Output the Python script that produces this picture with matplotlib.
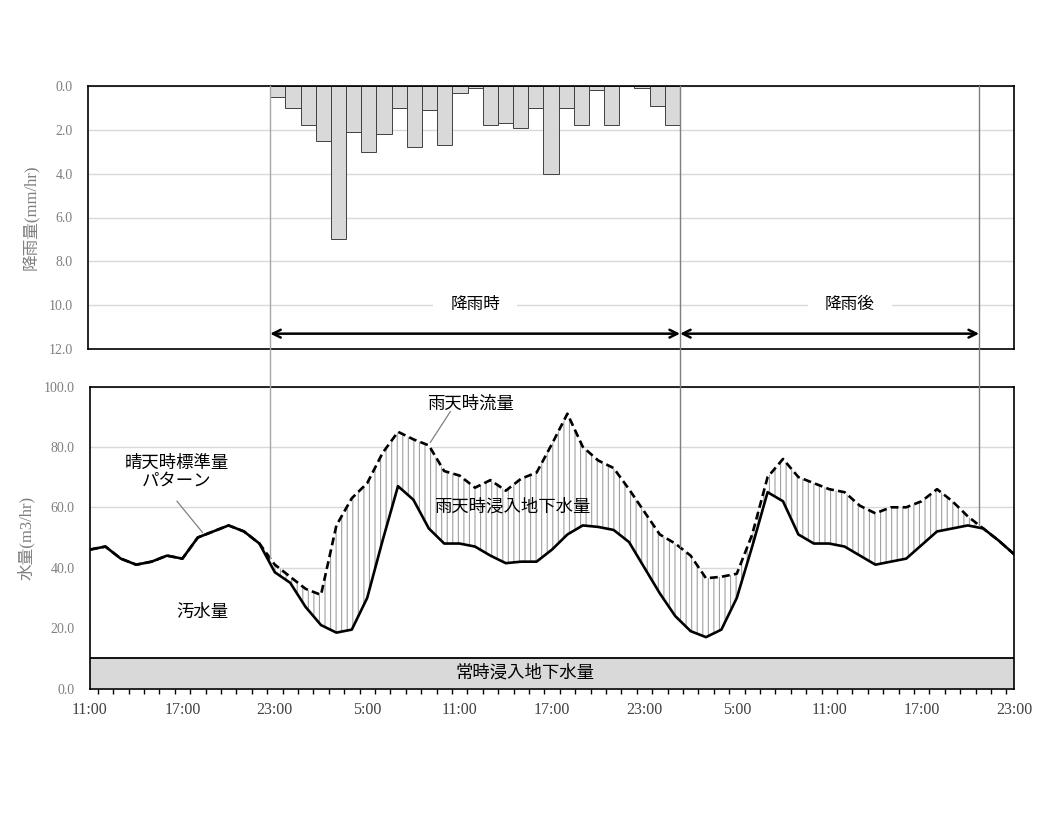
import numpy as np
import matplotlib.pyplot as plt
from matplotlib.lines import Line2D
from matplotlib.transforms import blended_transform_factory

plt.rcParams['font.family'] = ['Liberation Serif', 'Noto Sans CJK JP']
plt.rcParams['hatch.linewidth'] = 0.8

# hourly data, 11:00 (day 1) -> 23:00 (day 3)
hour_labels = ['11:00', '17:00', '23:00', '5:00', '11:00', '17:00',
               '23:00', '5:00', '11:00', '17:00', '23:00']

# rainfall (mm/hr), one bar per hour starting at hour index 12 (23:00)
rain_first = 12
rainfall = [0.5, 1.0, 1.8, 2.5, 7.0, 2.1, 3.0, 2.2, 1.0, 2.8, 1.1, 2.7, 0.3, 0.1,
            1.8, 1.7, 1.9, 1.0, 4.0, 1.0, 1.8, 0.2, 1.8, 0.0, 0.1, 0.9, 1.8]

# period markers (rain chart hour units)
rain_start = 12
rain_end = 39
after_end = 58.7

# dry weather pattern (m3/hr)
dry_flow = [46, 47, 43, 41, 42, 44, 43, 50, 52, 54, 52, 48,
            38.5, 35, 27, 21, 18.5, 19.5, 30, 49, 67, 62.5, 53, 48,
            48, 47, 44, 41.5, 42, 42, 46, 51, 54, 53.5, 52.5, 48.5,
            40, 31.5, 24, 19, 17, 19.5, 30, 47, 65, 62, 51, 48,
            48, 47, 44, 41, 42, 43, 47.5, 52, 53, 54, 53, 49, 44.5]

# wet weather flow (m3/hr)
rain_flow = [46, 47, 43, 41, 42, 44, 43, 50, 52, 54, 52, 48,
             41, 37, 33, 31, 54, 63, 68, 78, 85, 82.5, 80.5, 72,
             70.5, 66.5, 69, 65.5, 69.5, 71.5, 81, 91, 80, 75.5, 73, 66,
             58.5, 51, 48, 44, 36.5, 37, 38, 51, 70, 76, 70, 68,
             66, 65, 60.5, 58, 60, 60, 62, 66, 62, 57, 53, 49, 44.5]

# constant groundwater infiltration (m3/hr)
base_groundwater = 10.0

hours = np.arange(len(dry_flow))
grid_col = '#d9d9d9'
tick_col = '#7f7f7f'

fig = plt.figure(figsize=(10.56, 8.14), dpi=100)
ax1 = fig.add_axes([88/1056, 1-349/814, 926/1056, 263/814])
ax2 = fig.add_axes([90/1056, 1-688.5/814, 924/1056, 302/814])

# ---- rainfall chart
bar_x = np.arange(rain_first, rain_first + len(rainfall))
ax1.bar(bar_x, rainfall, width=1, align='edge', color='#d9d9d9',
        edgecolor='#404040', linewidth=0.7, zorder=2)
ax1.set_xlim(0, 61)
ax1.set_ylim(12, 0)
ax1.set_yticks(np.arange(0, 12.1, 2))
ax1.set_yticklabels(['%.1f' % v for v in np.arange(0, 12.1, 2)])
ax1.set_xticks([])
ax1.yaxis.grid(True, color=grid_col, lw=1)
ax1.set_axisbelow(True)
ax1.tick_params(axis='y', length=0, pad=11, labelsize=10, labelcolor=tick_col)
ax1.set_ylabel('降雨量(mm/hr)', fontsize=12, color=tick_col, labelpad=6)
for s in ax1.spines.values():
    s.set_linewidth(1.2)

ax1.annotate('', xy=(rain_start, 11.3), xytext=(rain_end, 11.3),
             arrowprops=dict(arrowstyle='<->', lw=1.8, color='black',
                             shrinkA=0, shrinkB=0, mutation_scale=14))
ax1.annotate('', xy=(rain_end, 11.3), xytext=(after_end, 11.3),
             arrowprops=dict(arrowstyle='<->', lw=1.8, color='black',
                             shrinkA=0, shrinkB=0, mutation_scale=14))
ax1.text((rain_start + rain_end) / 2, 10, '降雨時', ha='center', va='center',
         fontsize=12, bbox=dict(facecolor='white', edgecolor='none', pad=12))
ax1.text(50.2, 10, '降雨後', ha='center', va='center', fontsize=12,
         bbox=dict(facecolor='white', edgecolor='none', pad=12))

# ---- flow chart
ax2.set_xlim(0, 60)
ax2.set_ylim(0, 100)
ax2.set_yticks(np.arange(0, 101, 20))
ax2.set_yticklabels(['%.1f' % v for v in np.arange(0, 101, 20)])
ax2.yaxis.grid(True, color=grid_col, lw=1, zorder=0)
ax2.set_axisbelow(True)

ax2.fill_between(hours, 0, rain_flow, color='white', lw=0, zorder=1)
ax2.fill_between(hours, dry_flow, rain_flow, facecolor='none',
                 edgecolor='#a0a0a0', hatch='|||', lw=0, zorder=2)
ax2.fill_between(hours, 0, base_groundwater, color='#d9d9d9', lw=0, zorder=3)
ax2.axhline(base_groundwater, color='black', lw=1.3, zorder=3)
ax2.plot(hours, rain_flow, color='black', lw=1.9, ls=(0, (3, 1.6)), zorder=4)
ax2.plot(hours, dry_flow, color='black', lw=1.9, zorder=5)

ax2.set_xticks(np.arange(0, 61, 6))
ax2.set_xticklabels(hour_labels)
ax2.set_xticks(np.arange(0.5, 60, 1), minor=True)
ax2.tick_params(axis='x', which='major', length=0, pad=10, labelsize=11.5,
                labelcolor='#404040')
ax2.tick_params(axis='x', which='minor', length=3.5, width=1, direction='out')
ax2.tick_params(axis='y', length=0, pad=11, labelsize=10, labelcolor=tick_col)
ax2.set_ylabel('水量(m3/hr)', fontsize=12, color=tick_col, labelpad=6)
for s in ax2.spines.values():
    s.set_linewidth(1.2)
    s.set_zorder(6)

ax2.text(24.7, 94, '雨天時流量', ha='center', va='center', fontsize=12.5)
ax2.plot([23.4, 22.1], [91.7, 81.5], color='#808080', lw=0.9, zorder=6)
ax2.text(5.65, 71.5, '晴天時標準量\nパターン', ha='center', va='center',
         fontsize=12.5, linespacing=1.1)
ax2.plot([5.65, 7.3], [62, 51.7], color='#808080', lw=0.9, zorder=6)
ax2.text(7.3, 25, '汚水量', ha='center', va='center', fontsize=12.5)
ax2.text(27.4, 60, '雨天時浸入地下水量', ha='center', va='center',
         fontsize=12.5, zorder=6)
ax2.text(28.25, 5.2, '常時浸入地下水量', ha='center', va='center',
         fontsize=12.5, zorder=6)

# ---- period lines running through both charts
trans_x = blended_transform_factory(ax1.transData, fig.transFigure)
y_top = ax1.get_position().y1
for x, col in [(rain_start, '#a6a6a6'), (rain_end, '#7f7f7f'), (after_end, '#7f7f7f')]:
    xd = ax1.transData.transform((x, 0))[0]
    h = ax2.transData.inverted().transform((xd, 0))[0]
    v = np.interp(h, hours, rain_flow)
    y_bot = fig.transFigure.inverted().transform(ax2.transData.transform((h, v)))[1]
    fig.add_artist(Line2D([x, x], [y_bot, y_top], transform=trans_x,
                          color=col, lw=1.0))

plt.savefig('out.png', dpi=100)
